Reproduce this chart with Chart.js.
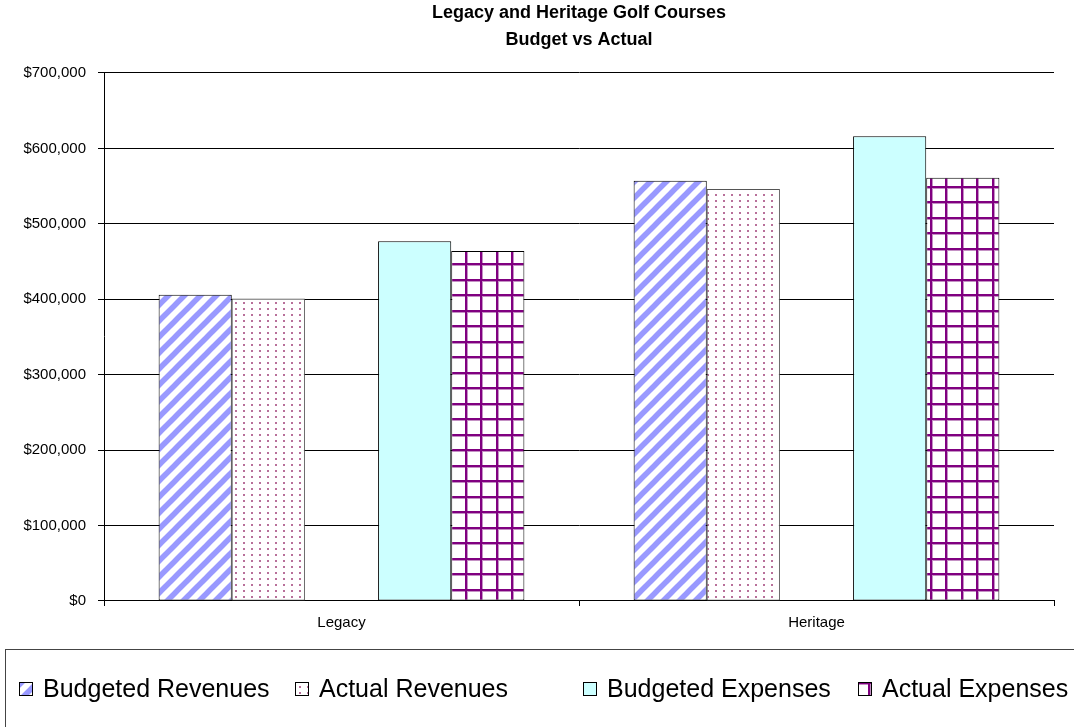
<!DOCTYPE html>
<html>
<head>
<meta charset="utf-8">
<title>Golf Courses Budget vs Actual</title>
<script src="https://cdn.jsdelivr.net/npm/chart.js@4.4.1/dist/chart.umd.min.js"></script>
<style>
    html, body { margin: 0; padding: 0; background: #fff; }
</style>
</head>
<body>
<canvas id="golfChart" width="1074" height="727"></canvas>
<script>
const TITLE_LINES = ["Legacy and Heritage Golf Courses", "Budget vs Actual"];
const COURSES = ["Legacy", "Heritage"];
const SERIES = ["Budgeted Revenues", "Actual Revenues", "Budgeted Expenses", "Actual Expenses"];
const BUDGETED_REVENUES = [406000, 557000];
const ACTUAL_REVENUES = [401000, 546000];
const BUDGETED_EXPENSES = [477000, 616000];
const ACTUAL_EXPENSES = [464000, 561000];
const Y_MIN = 0;
const Y_MAX = 700000;
const Y_STEP = 100000;

// legend row: left edge of each swatch
const LEGEND_X = [19, 295, 583, 858];

const FONT = '"Liberation Sans", Arial, sans-serif';
Chart.defaults.font.family = FONT;
Chart.defaults.color = '#000';

function makeTile(w, h, draw) {
    var c = document.createElement('canvas');
    c.width = w;
    c.height = h;
    var g = c.getContext('2d');
    g.fillStyle = '#fff';
    g.fillRect(0, 0, w, h);
    draw(g, w, h);
    return c;
}

var ctx = document.getElementById('golfChart').getContext('2d');

// diagonal blue stripes
var stripeTile = makeTile(16, 16, function (g) {
    g.strokeStyle = '#9999ff';
    g.lineWidth = 5.5;
    [0, 16, 32].forEach(function (c) {
        g.beginPath();
        g.moveTo(-4, c + 4);
        g.lineTo(20, c - 20);
        g.stroke();
    });
});
// sparse plum dots
var dotTile = makeTile(8, 6, function (g) {
    g.fillStyle = 'rgba(160, 64, 120, 0.75)';
    g.fillRect(3, 2, 2, 2);
});
// purple lattice
var gridTile = makeTile(31, 31, function (g) {
    g.fillStyle = '#c490c4';
    g.fillRect(0, 0, 3, 31);
    g.fillRect(15, 0, 3, 31);
    g.fillRect(0, 0, 31, 3);
    g.fillRect(0, 15, 31, 3);
    g.fillStyle = '#800080';
    g.fillRect(0, 0, 2, 31);
    g.fillRect(15, 0, 2, 31);
    g.fillRect(0, 0, 31, 2);
    g.fillRect(0, 15, 31, 2);
});

const SERIES_FILL = [
    ctx.createPattern(stripeTile, 'repeat'),
    ctx.createPattern(dotTile, 'repeat'),
    '#ccffff',
    ctx.createPattern(gridTile, 'repeat')
];
const SERIES_DATA = [BUDGETED_REVENUES, ACTUAL_REVENUES, BUDGETED_EXPENSES, ACTUAL_EXPENSES];

var datasets = [];
SERIES.forEach(function (name, i) {
    datasets.push({
        label: name,
        data: SERIES_DATA[i],
        backgroundColor: SERIES_FILL[i],
        borderColor: i == 1 ? '#555' : '#000'
    });
    // empty slot between revenues and expenses
    if (i == 1) {
        datasets.push({ label: '', data: [null, null], backgroundColor: 'rgba(0,0,0,0)' });
    }
});

const legendBox = {
    id: 'legendBox',
    afterDraw(chart) {
        var c = chart.ctx;
        c.save();
        c.strokeStyle = '#444';
        c.lineWidth = 1;
        c.strokeRect(5.5, 649.5, 1100, 100);
        c.font = '25px ' + FONT;
        c.textBaseline = 'middle';
        var k = 0;
        chart.data.datasets.forEach(function (ds) {
            if (!ds.label) return;
            var x = LEGEND_X[k++];
            c.fillStyle = ds.backgroundColor;
            c.fillRect(x, 682, 14, 14);
            c.strokeStyle = '#000';
            c.strokeRect(x + 0.5, 682.5, 13, 13);
            c.fillStyle = '#000';
            c.fillText(ds.label, x + 24, 690);
        });
        c.restore();
    }
};

const golfChart = new Chart(ctx, {
    type: 'bar',
    data: { labels: COURSES, datasets: datasets },
    options: {
        responsive: false,
        animation: false,
        layout: { padding: { left: 0, right: 20, top: 0, bottom: 95 } },
        datasets: {
            bar: {
                categoryPercentage: 0.77,
                barPercentage: 1,
                borderWidth: 1,
                borderSkipped: false
            }
        },
        plugins: {
            legend: { display: false },
            tooltip: { enabled: false },
            title: {
                display: true,
                fullSize: false,
                text: TITLE_LINES,
                color: '#000',
                font: { family: FONT, size: 18, weight: 'bold', lineHeight: 1.47 },
                padding: { top: 0, bottom: 20 }
            }
        },
        scales: {
            x: {
                offset: true,
                grid: { display: true, offset: true, drawOnChartArea: false, tickLength: 5, color: '#000' },
                border: { display: true, color: '#000' },
                ticks: { color: '#000', font: { size: 15 }, padding: 8 },
                afterFit: function (scale) { scale.height = 31; }
            },
            y: {
                min: Y_MIN,
                max: Y_MAX,
                grid: { color: '#000', tickLength: 6 },
                border: { display: true, color: '#000' },
                ticks: {
                    stepSize: Y_STEP,
                    padding: 12,
                    color: '#000',
                    font: { size: 15 },
                    callback: function (v) { return '$' + v.toLocaleString('en-US'); }
                },
                afterFit: function (scale) { scale.width = 104; }
            }
        }
    },
    plugins: [legendBox]
});
</script>
</body>
</html>
